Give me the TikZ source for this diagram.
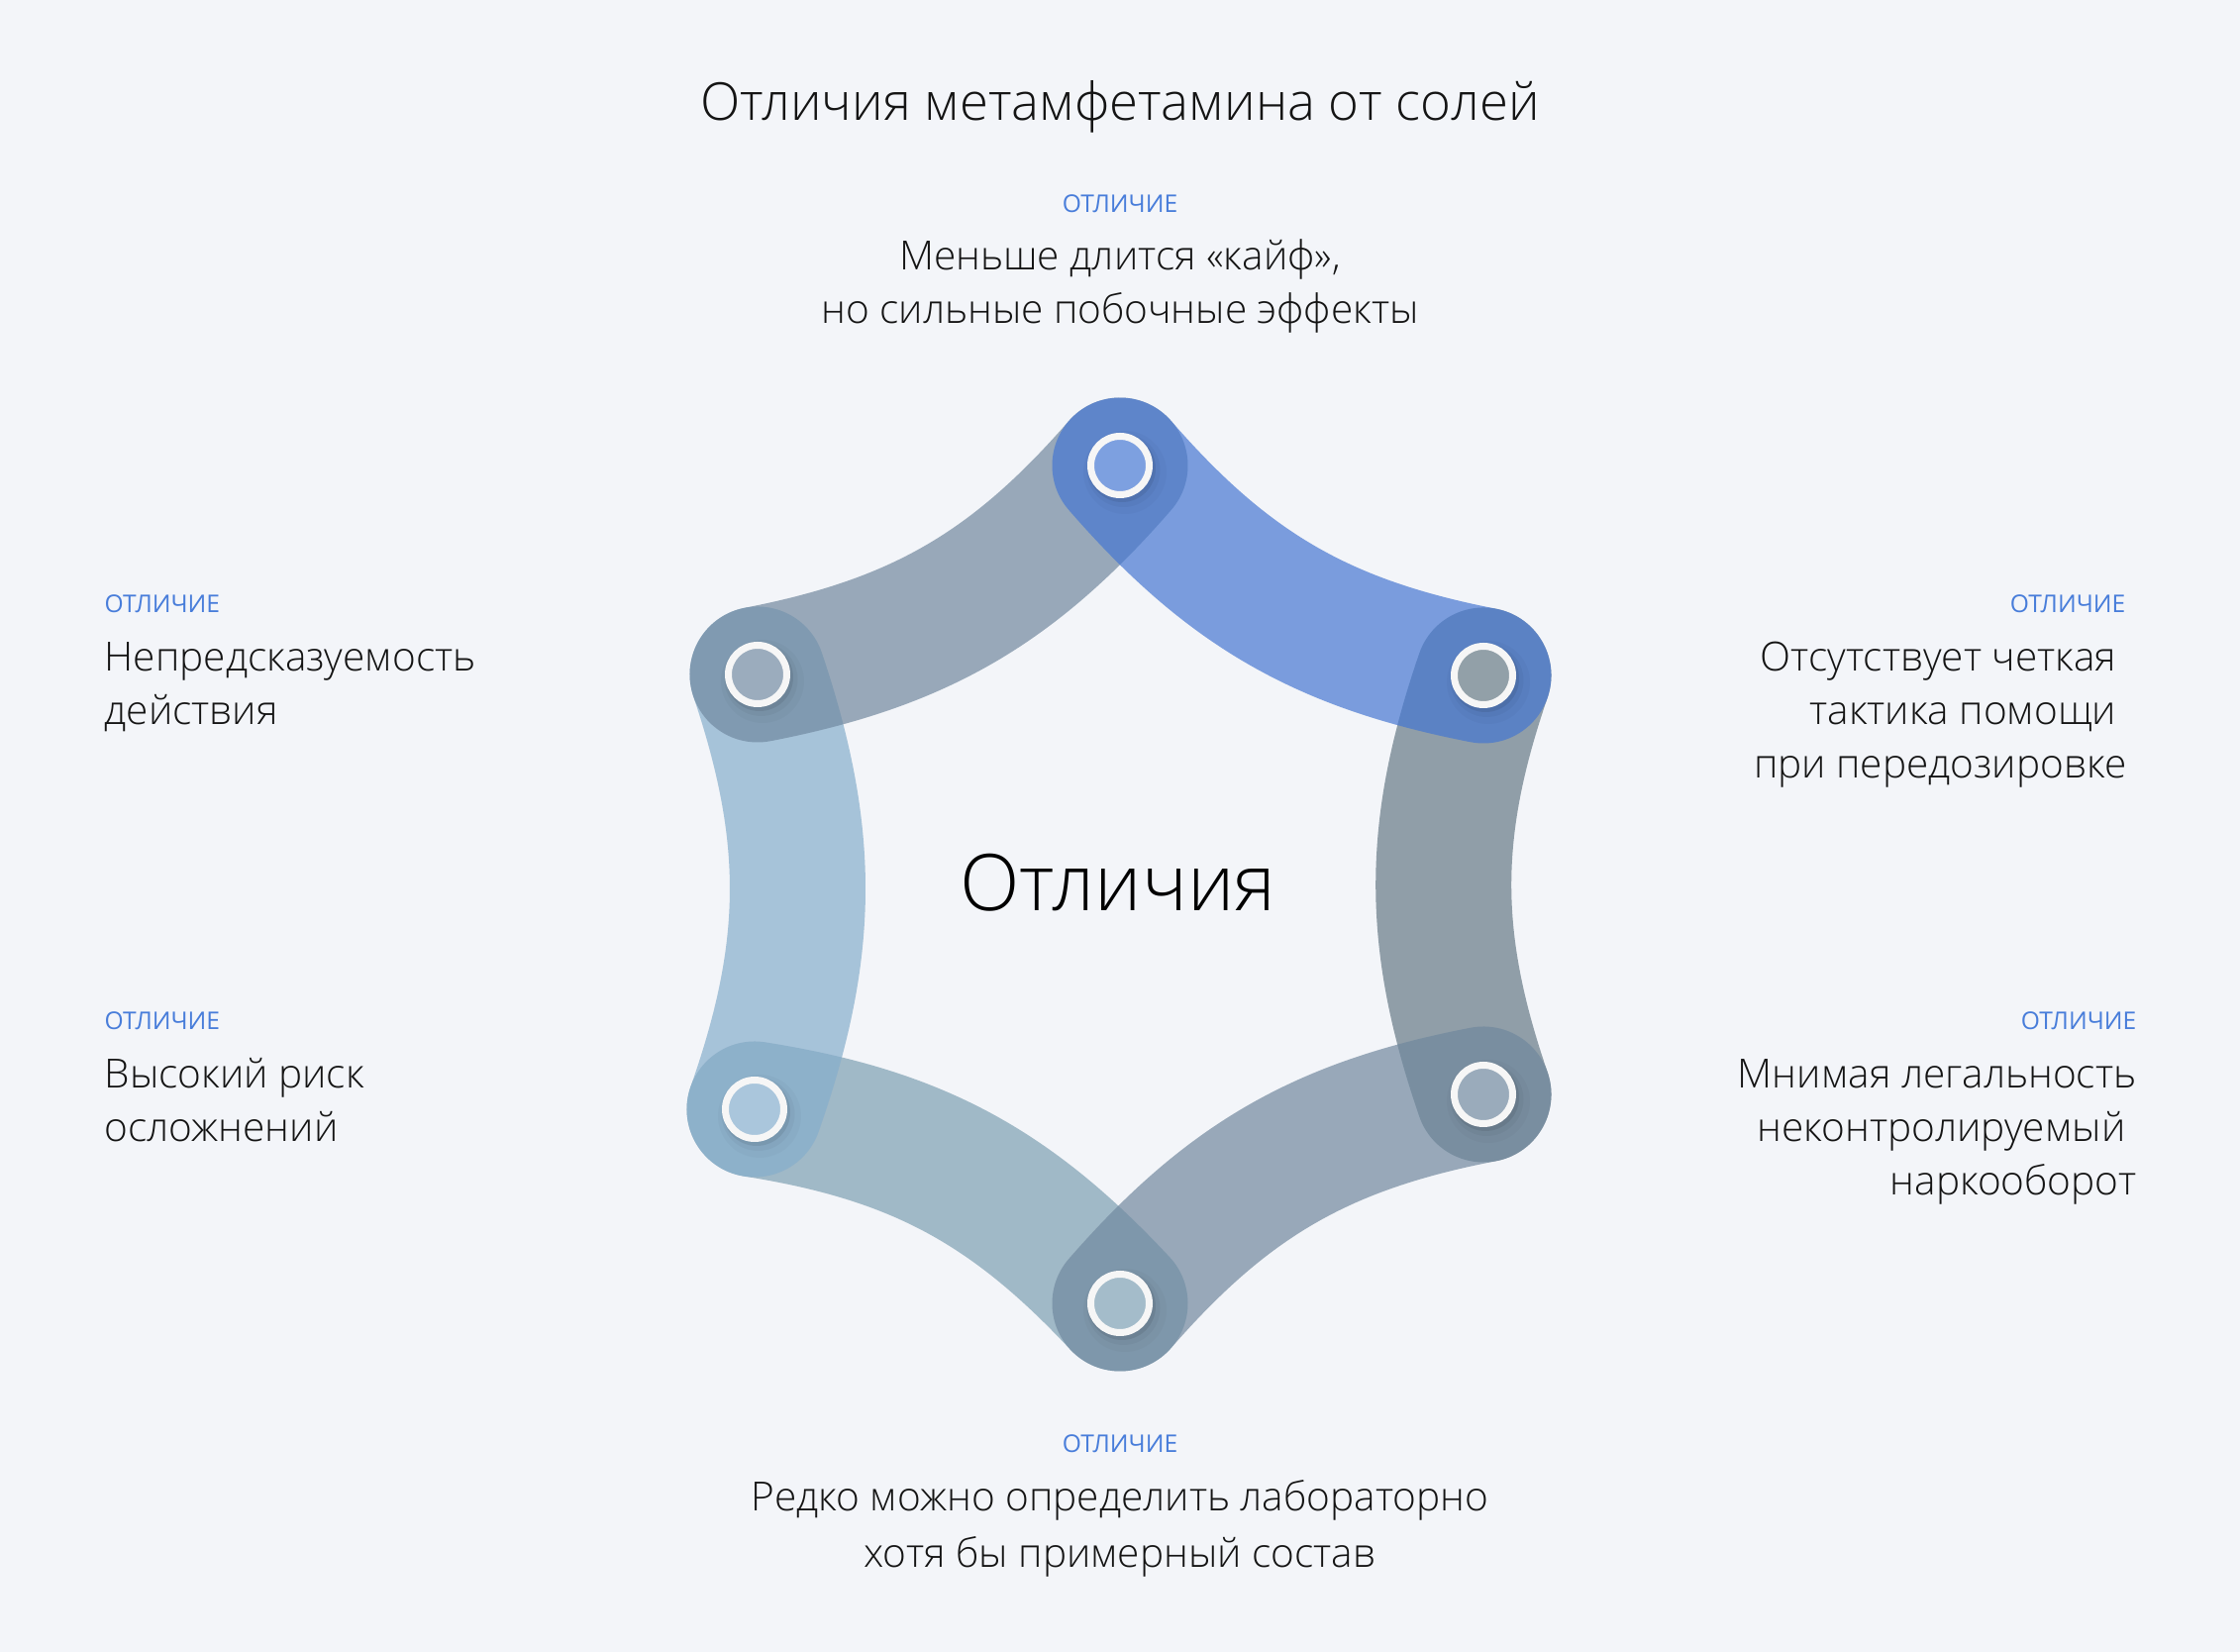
\documentclass[tikz,border=0pt]{standalone}
\usepackage{fontspec}
\setmainfont{Open Sans}[UprightFont=* Light]
\newfontfamily\lblfont{Open Sans}
\definecolor{bg}{RGB}{243,245,249}
\definecolor{txt}{RGB}{20,20,20}
\definecolor{lblblue}{RGB}{72,125,218}
\definecolor{cTR}{RGB}{67,118,212}
\definecolor{cRR}{RGB}{100,121,134}
\definecolor{cRB}{RGB}{112,136,159}
\definecolor{cBL}{RGB}{125,160,179}
\definecolor{cLL}{RGB}{134,175,206}
\definecolor{cLT}{RGB}{112,136,159}
\definecolor{iT}{RGB}{125,160,224}
\definecolor{iRT}{RGB}{146,160,168}
\definecolor{iRB}{RGB}{154,171,187}
\definecolor{iB}{RGB}{164,188,202}
\definecolor{iLB}{RGB}{170,198,220}
\definecolor{iLT}{RGB}{155,172,189}
\definecolor{ring}{RGB}{246,246,246}
\tikzset{
  band/.style={line width=1.37cm, line cap=round, draw opacity=0.67},
  bandshadow/.style={line width=1.37cm, line cap=round, draw=black, draw opacity=0.035},
  hub/.style={circle, minimum size=0.59cm, inner sep=0pt, draw=ring, line width=0.07cm},
  hubshadow/.style={fill=black, fill opacity=0.08},
  body/.style={font=\fontsize{11.55}{14}\selectfont, text=txt, inner sep=0pt},
  lbl/.style={font=\lblfont\fontsize{7.0}{9}\selectfont, text=lblblue, inner sep=0pt},
  ttl/.style={font=\fontsize{15}{18}\selectfont, text=txt, inner sep=0pt},
  ctr/.style={font=\fontsize{22.5}{26}\selectfont, text=black, inner sep=0pt},
}
\begin{document}
\begin{tikzpicture}
\useasboundingbox (0,0) rectangle (22.62,16.68);
\fill[bg] (0,0) rectangle (22.62,16.68);
% hub positions
\coordinate (T) at (11.31,11.98);
\coordinate (RT) at (14.98,9.86);
\coordinate (RB) at (14.98,5.63);
\coordinate (B) at (11.31,3.52);
\coordinate (LB) at (7.62,5.48);
\coordinate (LT) at (7.65,9.87);
% band shadows
\begin{scope}[yshift=-0.06cm, xshift=0.01cm]
\draw[bandshadow] (B) to[bend right=19] (LB);
\draw[bandshadow] (LB) to[bend right=19] (LT);
\draw[bandshadow] (LT) to[bend right=19] (T);
\draw[bandshadow] (RT) to[bend right=19] (RB);
\draw[bandshadow] (RB) to[bend right=19] (B);
\draw[bandshadow] (T) to[bend right=19] (RT);
\end{scope}
% bands
\draw[band, cBL] (B) to[bend right=19] (LB);
\draw[band, cLL] (LB) to[bend right=19] (LT);
\draw[band, cLT] (LT) to[bend right=19] (T);
\draw[band, cRR] (RT) to[bend right=19] (RB);
\draw[band, cRB] (RB) to[bend right=19] (B);
\draw[band, cTR] (T) to[bend right=19] (RT);
% hub shadows
\foreach \p in {T,RT,RB,B,LB,LT}{
  \fill[black, fill opacity=0.025] ([shift={(0.05,-0.07)}]\p) circle (0.42);
  \fill[black, fill opacity=0.035] ([shift={(0.035,-0.05)}]\p) circle (0.37);
  \fill[hubshadow] ([shift={(0.02,-0.03)}]\p) circle (0.34);
}
% hubs
\node[hub, fill=iT] (nT) at (T) {};
\node[hub, fill=iRT] (nRT) at (RT) {};
\node[hub, fill=iRB] (nRB) at (RB) {};
\node[hub, fill=iB] (nB) at (B) {};
\node[hub, fill=iLB] (nLB) at (LB) {};
\node[hub, fill=iLT] (nLT) at (LT) {};
% texts
\node[ttl, anchor=base] (title) at (11.31,15.46) {Отличия метамфетамина от солей};
\node[ctr, anchor=base] (center) at (11.29,7.48) {Отличия};
% top
\node[lbl, anchor=base] (lT) at (11.31,14.53) {ОТЛИЧИЕ};
\node[body, anchor=base] (tT1) at (11.31,13.95) {Меньше длится «кайф»,};
\node[body, anchor=base] (tT2) at (11.31,13.41) {но сильные побочные эффекты};
% left top
\node[lbl, anchor=base west] (lLT) at (1.05,10.49) {ОТЛИЧИЕ};
\node[body, anchor=base west] (tLT1) at (1.05,9.90) {Непредсказуемость};
\node[body, anchor=base west] (tLT2) at (1.05,9.36) {действия};
% left bottom
\node[lbl, anchor=base west] (lLB) at (1.05,6.28) {ОТЛИЧИЕ};
\node[body, anchor=base west] (tLB1) at (1.05,5.69) {Высокий риск};
\node[body, anchor=base west] (tLB2) at (1.05,5.15) {осложнений};
% right top
\node[lbl, anchor=base east] (lRT) at (21.47,10.49) {ОТЛИЧИЕ};
\node[body, anchor=base east] (tRT1) at (21.38,9.90) {Отсутствует четкая};
\node[body, anchor=base east] (tRT2) at (21.38,9.36) {тактика помощи};
\node[body, anchor=base east] (tRT3) at (21.48,8.82) {при передозировке};
% right bottom
\node[lbl, anchor=base east] (lRB) at (21.58,6.28) {ОТЛИЧИЕ};
\node[body, anchor=base east] (tRB1) at (21.58,5.69) {Мнимая легальность};
\node[body, anchor=base east] (tRB2) at (21.47,5.15) {неконтролируемый};
\node[body, anchor=base east] (tRB3) at (21.58,4.61) {наркооборот};
% bottom
\node[lbl, anchor=base] (lB) at (11.31,2.01) {ОТЛИЧИЕ};
\node[body, anchor=base] (tB1) at (11.31,1.42) {Редко можно определить лабораторно};
\node[body, anchor=base] (tB2) at (11.31,0.85) {хотя бы примерный состав};
\end{tikzpicture}
\end{document}
